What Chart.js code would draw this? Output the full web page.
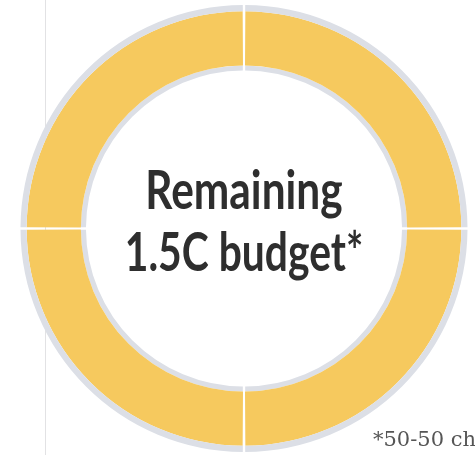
<!DOCTYPE html>
<html>
<head>
<meta charset="utf-8">
<script src="https://cdn.jsdelivr.net/npm/chart.js@4/dist/chart.umd.min.js"></script>
<style>
	html, body { margin: 0; padding: 0; background: #fff; }
	#wrap { position: relative; width: 475px; height: 455px; overflow: hidden; }
	#rule { position: absolute; left: 45px; top: 0; width: 1px; height: 455px; background: #e2e2e4; }
	#chart-budget { position: absolute; left: 0; top: 0; }
	.center-label { position: absolute; left: 0; width: 488px; text-align: center;
		font-family: Lato, sans-serif; font-weight: 700; font-size: 53px; line-height: 53px;
		color: #2e2e2e; transform: scaleX(0.8); transform-origin: 244px 0; white-space: nowrap; }
	#note { position: absolute; left: 373px; top: 427px; font-family: "DejaVu Serif", serif;
		font-size: 21px; color: #555; white-space: nowrap; }
</style>
</head>
<body>
<div id="wrap">
	<div id="rule"></div>
	<canvas id="chart-budget" width="475" height="455"></canvas>
	<div class="center-label" style="top:162px">Remaining</div>
	<div class="center-label" style="top:224px; transform: scaleX(0.77)">1.5C budget*</div>
	<div id="note">*50-50 ch</div>
</div>
<script>
	// four equal quarters of the remaining budget
	var quarter_labels = ['Q1', 'Q2', 'Q3', 'Q4'];
	var quarter_values = [25, 25, 25, 25];

	var colorYellow = '#f6c95e';
	var colorRing = '#dcdfe6';

	var configChartBudget = {
		type: 'doughnut',
		data: {
			labels: quarter_labels,
			datasets: [{
				// outer grey edge
				data: quarter_values,
				backgroundColor: colorRing,
				borderWidth: 0,
				spacing: 3,
				weight: 6
			}, {
				data: quarter_values,
				backgroundColor: colorYellow,
				borderWidth: 0,
				spacing: 3,
				weight: 53
			}, {
				// inner grey edge
				data: quarter_values,
				backgroundColor: colorRing,
				borderWidth: 0,
				spacing: 3,
				weight: 5
			}]
		},
		options: {
			responsive: false,
			animation: false,
			cutout: '70.5%',
			layout: {
				padding: { left: 18, right: 5, top: 5, bottom: 3 }
			},
			plugins: {
				legend: { display: false },
				tooltip: { enabled: false },
				title: { display: false }
			}
		}
	};

	var ctx = document.getElementById('chart-budget').getContext('2d');
	chartBudget = new Chart(ctx, configChartBudget);
</script>
</body>
</html>
